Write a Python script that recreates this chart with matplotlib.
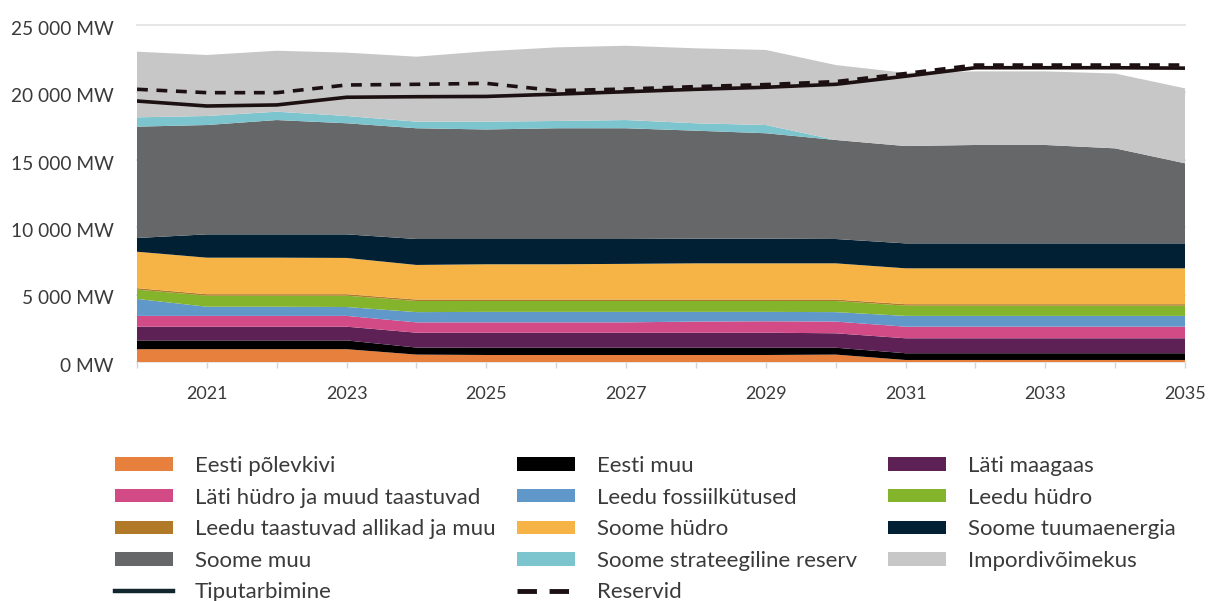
import numpy as np
import matplotlib
matplotlib.use("Agg")
import matplotlib.pyplot as plt
from matplotlib.patches import Patch
from matplotlib.lines import Line2D
from matplotlib.transforms import ScaledTranslation

plt.rcParams['font.family'] = ['Lato', 'DejaVu Sans']

years = list(range(2020, 2036))

# installed capacity by source, MW (stacked bottom -> top)
eesti_polevkivi = [950, 950, 950, 950, 550, 520, 520, 520, 520, 520, 550, 150, 150, 150, 150, 150]
eesti_muu = [650, 650, 650, 650, 520, 540, 540, 540, 540, 540, 510, 500, 500, 500, 500, 500]
lati_maagaas = [1020, 1020, 1020, 1020, 1105, 1115, 1115, 1115, 1115, 1115, 1070, 1110, 1110, 1110, 1110, 1110]
lati_hudro = [800, 800, 800, 800, 765, 765, 765, 765, 825, 845, 870, 860, 860, 860, 860, 860]
leedu_fossiil = [1260, 680, 680, 660, 760, 780, 780, 780, 720, 700, 700, 800, 800, 800, 800, 800]
leedu_hudro = [690, 820, 820, 840, 825, 805, 805, 805, 805, 805, 825, 760, 760, 760, 760, 760]
leedu_taastuvad = [110, 110, 110, 110, 110, 110, 110, 110, 110, 110, 110, 110, 110, 110, 110, 110]
soome_hudro = [2700, 2710, 2710, 2690, 2565, 2615, 2615, 2645, 2685, 2685, 2685, 2660, 2660, 2660, 2660, 2660]
soome_tuuma = [1020, 1730, 1730, 1750, 1925, 1875, 1875, 1845, 1830, 1830, 1805, 1850, 1850, 1850, 1850, 1850]
soome_muu = [8260, 8110, 8480, 8240, 8215, 8125, 8215, 8215, 8010, 7820, 7345, 7220, 7300, 7300, 7050, 5940]
soome_reserv = [690, 670, 620, 540, 490, 580, 540, 610, 550, 610, 0, 0, 0, 0, 0, 0]
import_cap = [4870, 4525, 4520, 4700, 4820, 5220, 5460, 5510, 5560, 5570, 5560, 5430, 5460, 5460, 5550, 5560]

tiputarbimine = [19360, 18990, 19070, 19640, 19680, 19700, 19870, 20050, 20230, 20380, 20600, 21200, 21830, 21830, 21830, 21800]
reservid = [20230, 19980, 19980, 20550, 20600, 20670, 20130, 20250, 20430, 20580, 20800, 21400, 22030, 22030, 22030, 22030]

labels = ["Eesti põlevkivi", "Eesti muu", "Läti maagaas",
          "Läti hüdro ja muud taastuvad", "Leedu fossiilkütused", "Leedu hüdro",
          "Leedu taastuvad allikad ja muu", "Soome hüdro", "Soome tuumaenergia",
          "Soome muu", "Soome strateegiline reserv", "Impordivõimekus"]
colors = ["#e8803d", "#000000", "#5d2156",
          "#d24a86", "#6198ca", "#83b42c",
          "#b07a28", "#f6b446", "#022034",
          "#666769", "#7dc5ce", "#c7c7c7"]
series = [eesti_polevkivi, eesti_muu, lati_maagaas, lati_hudro, leedu_fossiil,
          leedu_hudro, leedu_taastuvad, soome_hudro, soome_tuuma, soome_muu,
          soome_reserv, import_cap]

yticks = [0, 5000, 10000, 15000, 20000, 25000]
ytick_labels = ["0 MW", "5 000 MW", "10 000 MW", "15 000 MW", "20 000 MW", "25 000 MW"]
xticks = [2021, 2023, 2025, 2027, 2029, 2031, 2033, 2035]

W, H = 1208, 601
fig = plt.figure(figsize=(W / 100, H / 100), dpi=100)
ax = fig.add_axes([137 / W, 1 - 362 / H, (1185 - 137) / W, (362 - 25) / H])

ax.stackplot(years, *series, colors=colors, linewidth=0, zorder=2)
line_col = "#1c1012"
ax.plot(years, tiputarbimine, color=line_col, lw=2.6, zorder=3)
ax.plot(years, reservid, color=line_col, lw=2.6, dashes=(3.0, 2.4), zorder=3)

ax.set_xlim(2020, 2035)
ax.set_ylim(0, 25000)
for s in ax.spines.values():
    s.set_visible(False)

ax.set_yticks(yticks)
ax.set_yticklabels(ytick_labels)
ax.yaxis.grid(True, color="#e4e4e4", lw=1.3, zorder=0)
ax.set_axisbelow(True)
for gl in ax.get_ygridlines():
    gl.set_clip_on(False)
ax.tick_params(axis="y", length=0, pad=17, labelsize=13.8, labelcolor="#3a3a3a")
for lab in ax.get_yticklabels():
    lab.set_transform(lab.get_transform() + ScaledTranslation(0, -2 / 72, fig.dpi_scale_trans))

ax.set_xticks(xticks)
ax.set_xticks(years, minor=True)
ax.tick_params(axis="x", which="both", length=4, color="#d4d4d4", width=1)
ax.tick_params(axis="x", which="major", pad=13, labelsize=13, labelcolor="#3a3a3a")

# legend, row-major order in three columns
handles = [Patch(facecolor=c, edgecolor="none") for c in colors]
handles.append(Line2D([], [], color="#12262e", lw=3.2))
handles.append(Line2D([], [], color=line_col, lw=3.5, dashes=(4, 2.6)))
leg_labels = labels + ["Tiputarbimine", "Reservid"]

col_x = [115, 517, 888]
for c in range(3):
    idx = list(range(c, len(handles), 3))
    leg = fig.legend([handles[i] for i in idx], [leg_labels[i] for i in idx],
                     loc="upper left", bbox_to_anchor=(col_x[c] / W, 1 - 456 / H),
                     frameon=False, borderpad=0, borderaxespad=0,
                     fontsize=16, handlelength=2.6, handleheight=0.55,
                     handletextpad=1.0, labelspacing=0.52)
    for t in leg.get_texts():
        t.set_color("#3a3a3a")

fig.savefig("out.png", dpi=100)
